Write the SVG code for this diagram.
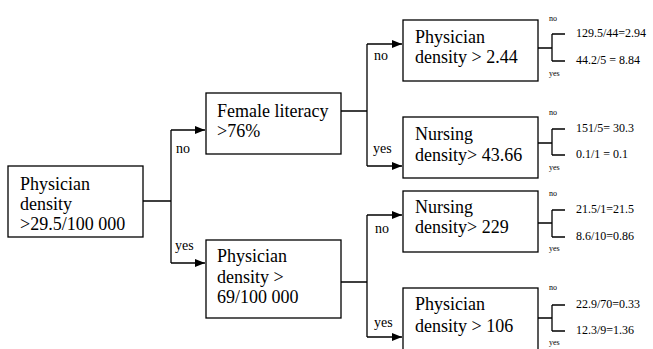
<svg xmlns="http://www.w3.org/2000/svg" width="653" height="349" viewBox="0 0 653 349">
<defs>
<marker id="arr" markerWidth="10" markerHeight="8" refX="10" refY="4" orient="auto" markerUnits="userSpaceOnUse">
<path d="M0,0 L10,4 L0,8 Z" fill="#000"/>
</marker>
<style>
text{font-family:'Liberation Serif','DejaVu Serif',serif;fill:#000}
.box{fill:#fff;stroke:#000;stroke-width:1.3}
.t{font-size:18px}
.lbl{font-size:14px}
.leaf{font-size:12px}
.sm{font-size:8px}
.c{fill:none;stroke:#000;stroke-width:1.3}
.ca{fill:none;stroke:#000;stroke-width:1.3;marker-end:url(#arr)}
</style>
</defs>
<rect width="653" height="349" fill="#fff"/>
<g id="connectors">
<path class="c" d="M143,201 H171 M171,130 V263"/>
<path class="ca" d="M171,130 H205"/>
<path class="ca" d="M171,263 H205"/>
<path class="c" d="M341,111 H367 M367,44 V166"/>
<path class="ca" d="M367,44 H402"/>
<path class="ca" d="M367,166 H402"/>
<path class="c" d="M341,282 H367 M367,215 V337"/>
<path class="ca" d="M367,215 H402"/>
<path class="ca" d="M367,337 H402"/>
<path class="c" d="M538,48 H552 M552,34 V61 M552,34 H565 M552,61 H565"/>
<path class="c" d="M538,143 H552 M552,129 V155 M552,129 H565 M552,155 H565"/>
<path class="c" d="M538,223 H552 M552,210 V237 M552,210 H565 M552,237 H565"/>
<path class="c" d="M538,318 H552 M552,305 V331 M552,305 H565 M552,331 H565"/>
<text class="lbl" x="176" y="153" font-family="Liberation Serif, serif">no</text>
<text class="lbl" x="175" y="250" font-family="Liberation Serif, serif">yes</text>
<text class="lbl" x="374" y="60" font-family="Liberation Serif, serif">no</text>
<text class="lbl" x="373" y="153" font-family="Liberation Serif, serif">yes</text>
<text class="lbl" x="375" y="233" font-family="Liberation Serif, serif">no</text>
<text class="lbl" x="374" y="327" font-family="Liberation Serif, serif">yes</text>
</g>
<g id="root">
<rect class="box" x="8" y="166" width="135" height="71"/>
<text class="t" x="20" y="190">Physician</text>
<text class="t" x="20" y="210">density</text>
<text class="t" x="20" y="230">&gt;29.5/100 000</text>
</g>
<g id="female">
<rect class="box" x="206" y="93" width="135" height="61"/>
<text class="t" x="217" y="117">Female literacy</text>
<text class="t" x="217" y="137">&gt;76%</text>
</g>
<g id="phys69">
<rect class="box" x="206" y="240" width="135" height="78"/>
<text class="t" x="217" y="262">Physician</text>
<text class="t" x="217" y="283">density &gt;</text>
<text class="t" x="217" y="303">69/100 000</text>
</g>
<g id="phys244">
<rect class="box" x="403" y="20" width="135" height="61"/>
<text class="t" x="415" y="43">Physician</text>
<text class="t" x="415" y="63">density &gt; 2.44</text>
<text class="sm" x="549" y="21">no</text>
<text class="sm" x="549" y="76">yes</text>
<text class="leaf" x="576" y="37">129.5/44=2.94</text>
<text class="leaf" x="576" y="64">44.2/5 = 8.84</text>
</g>
<g id="nurs4366">
<rect class="box" x="403" y="117" width="135" height="61"/>
<text class="t" x="415" y="140">Nursing</text>
<text class="t" x="415" y="161">density&gt; 43.66</text>
<text class="sm" x="549" y="115">no</text>
<text class="sm" x="549" y="170">yes</text>
<text class="leaf" x="576" y="132">151/5= 30.3</text>
<text class="leaf" x="576" y="158">0.1/1 = 0.1</text>
</g>
<g id="nurs229">
<rect class="box" x="403" y="191" width="135" height="61"/>
<text class="t" x="415" y="213">Nursing</text>
<text class="t" x="415" y="233">density&gt; 229</text>
<text class="sm" x="549" y="196">no</text>
<text class="sm" x="549" y="251">yes</text>
<text class="leaf" x="576" y="213">21.5/1=21.5</text>
<text class="leaf" x="576" y="240">8.6/10=0.86</text>
</g>
<g id="phys106">
<rect class="box" x="403" y="288" width="135" height="70"/>
<text class="t" x="415" y="310">Physician</text>
<text class="t" x="415" y="332">density &gt; 106</text>
<text class="sm" x="549" y="290">no</text>
<text class="sm" x="549" y="345">yes</text>
<text class="leaf" x="576" y="308">22.9/70=0.33</text>
<text class="leaf" x="576" y="334">12.3/9=1.36</text>
</g>
</svg>
